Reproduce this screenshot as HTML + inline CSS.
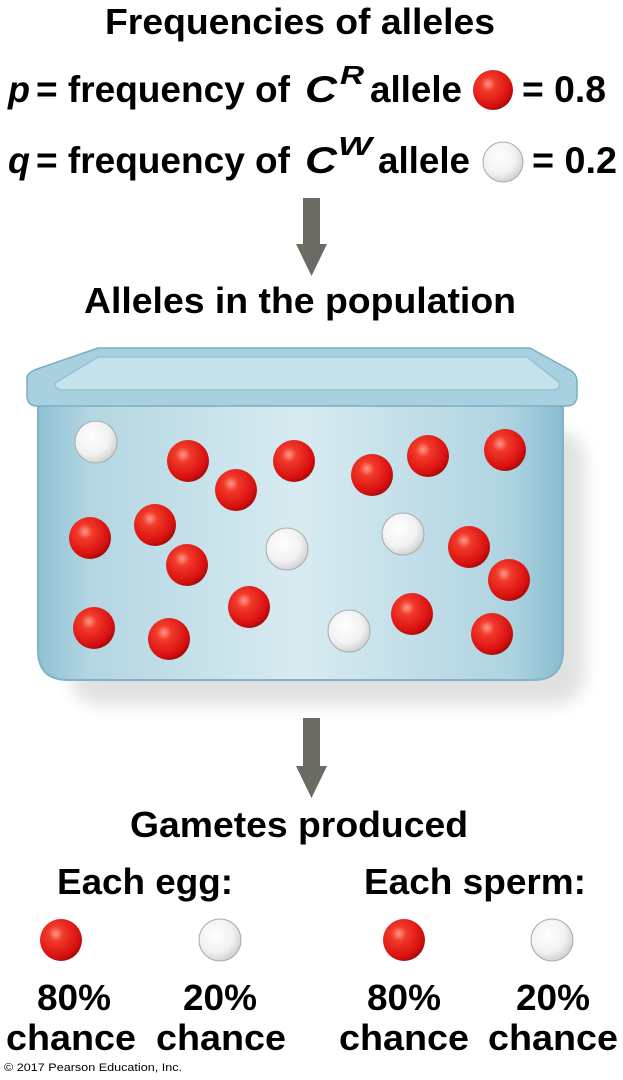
<!DOCTYPE html>
<html><head><meta charset="utf-8"><style>
html,body{margin:0;padding:0;background:#fff;}
svg{display:block;font-family:"Liberation Sans",sans-serif;font-weight:bold;}
</style></head><body>
<svg width="623" height="1080" viewBox="0 0 623 1080">
<defs>
<radialGradient id="red" cx="0.38" cy="0.35" r="0.7">
<stop offset="0" stop-color="#ff9a8a"/><stop offset="0.25" stop-color="#f23a2a"/><stop offset="0.8" stop-color="#d80f0f"/><stop offset="1" stop-color="#9a0a0a"/></radialGradient>
<radialGradient id="wht" cx="0.4" cy="0.38" r="0.7">
<stop offset="0" stop-color="#ffffff"/><stop offset="0.6" stop-color="#f1f1f1"/><stop offset="1" stop-color="#c9c9c9"/></radialGradient>
<linearGradient id="body" x1="0" x2="1" y1="0" y2="0">
<stop offset="0" stop-color="#8fc1d3"/><stop offset="0.1" stop-color="#b3d6e2"/><stop offset="0.5" stop-color="#d8ebf1"/><stop offset="0.9" stop-color="#aed3e0"/><stop offset="1" stop-color="#87bccf"/></linearGradient>
<filter id="sh" x="-20%" y="-20%" width="140%" height="140%"><feGaussianBlur stdDeviation="8"/></filter>
</defs>

<text x="105" y="34" font-size="36" textLength="390" lengthAdjust="spacingAndGlyphs">Frequencies of alleles</text>

<g font-size="37">
<text x="8" y="102" font-style="italic" textLength="22" lengthAdjust="spacingAndGlyphs">p</text>
<text x="36" y="102" textLength="254" lengthAdjust="spacingAndGlyphs">= frequency of</text>
<text x="305" y="102" font-style="italic" textLength="32" lengthAdjust="spacingAndGlyphs">C</text>
<text x="340" y="84" font-style="italic" font-size="26" textLength="24" lengthAdjust="spacingAndGlyphs">R</text>
<text x="370" y="102" textLength="92" lengthAdjust="spacingAndGlyphs">allele</text>
<text x="522" y="102" textLength="84" lengthAdjust="spacingAndGlyphs">= 0.8</text>
</g>
<circle cx="493" cy="90" r="20" fill="url(#red)"/>

<g font-size="37">
<text x="8" y="173" font-style="italic" textLength="22" lengthAdjust="spacingAndGlyphs">q</text>
<text x="36" y="173" textLength="254" lengthAdjust="spacingAndGlyphs">= frequency of</text>
<text x="305" y="173" font-style="italic" textLength="32" lengthAdjust="spacingAndGlyphs">C</text>
<text x="338" y="155" font-style="italic" font-size="26" textLength="34" lengthAdjust="spacingAndGlyphs">W</text>
<text x="378" y="173" textLength="92" lengthAdjust="spacingAndGlyphs">allele</text>
<text x="532" y="173" textLength="85" lengthAdjust="spacingAndGlyphs">= 0.2</text>
</g>
<circle cx="503" cy="162" r="20" fill="url(#wht)" stroke="#aaa" stroke-width="1"/>

<g fill="#6b6b63">
<rect x="303" y="198" width="17" height="46"/><polygon points="296,244 327,244 311.5,276"/></g>

<text x="84" y="313" font-size="36" textLength="432" lengthAdjust="spacingAndGlyphs">Alleles in the population</text>

<g>
<rect x="70" y="430" width="515" height="275" rx="30" fill="#888" opacity="0.25" filter="url(#sh)"/>
<path d="M38,395 L563,395 L563,650 Q563,680 533,680 L68,680 Q38,680 38,650 Z" fill="url(#body)" stroke="#7fb4c8" stroke-width="2"/>
<path d="M27,378 Q27,372 40,368 L98,348 L530,348 L570,370 Q577,374 577,382 L577,395 Q577,406 566,406 L37,406 Q27,406 27,395 Z" fill="#a9d0de" stroke="#78afc3" stroke-width="1.5"/>
<path d="M55,383 L98,357 L527,357 L560,383 Q560,390 552,390 L62,390 Q55,390 55,383 Z" fill="#c5e2ec" stroke="#92c2d3" stroke-width="1.5"/>
</g>

<g id="balls"></g>

<g fill="#6b6b63">
<rect x="303" y="718" width="17" height="48"/><polygon points="296,766 327,766 311.5,798"/></g>

<text x="130" y="837" font-size="36" textLength="338" lengthAdjust="spacingAndGlyphs">Gametes produced</text>
<text x="57" y="894" font-size="36" textLength="176" lengthAdjust="spacingAndGlyphs">Each egg:</text>
<text x="364" y="894" font-size="36" textLength="222" lengthAdjust="spacingAndGlyphs">Each sperm:</text>

<circle cx="61" cy="940" r="21" fill="url(#red)"/>
<circle cx="220" cy="940" r="21" fill="url(#wht)" stroke="#aaa"/>
<circle cx="404" cy="940" r="21" fill="url(#red)"/>
<circle cx="552" cy="940" r="21" fill="url(#wht)" stroke="#aaa"/>

<g font-size="36">
<text x="37" y="1010" textLength="74" lengthAdjust="spacingAndGlyphs">80%</text>
<text x="6" y="1050" textLength="130" lengthAdjust="spacingAndGlyphs">chance</text>
<text x="183" y="1010" textLength="74" lengthAdjust="spacingAndGlyphs">20%</text>
<text x="156" y="1050" textLength="130" lengthAdjust="spacingAndGlyphs">chance</text>
<text x="367" y="1010" textLength="74" lengthAdjust="spacingAndGlyphs">80%</text>
<text x="339" y="1050" textLength="130" lengthAdjust="spacingAndGlyphs">chance</text>
<text x="516" y="1010" textLength="74" lengthAdjust="spacingAndGlyphs">20%</text>
<text x="488" y="1050" textLength="130" lengthAdjust="spacingAndGlyphs">chance</text>
</g>
<text x="4" y="1071" font-size="11" font-weight="normal" textLength="178" lengthAdjust="spacingAndGlyphs">© 2017 Pearson Education, Inc.</text>
</svg>
<script>
const redX=[188,236,294,372,428,505,90,155,187,469,509,94,169,249,412,492];
const redY=[461,490,461,475,456,450,538,525,565,547,580,628,639,607,614,634];
const whiteX=[96,287,403,349];
const whiteY=[442,549,534,631];
const g=document.getElementById('balls');
const NS='http://www.w3.org/2000/svg';
redX.forEach((x,i)=>{const c=document.createElementNS(NS,'circle');
c.setAttribute('cx',x);c.setAttribute('cy',redY[i]);c.setAttribute('r',21);c.setAttribute('fill','url(#red)');


g.appendChild(c);});
whiteX.forEach((x,i)=>{const c=document.createElementNS(NS,'circle');
c.setAttribute('cx',x);c.setAttribute('cy',whiteY[i]);c.setAttribute('r',21);c.setAttribute('fill','url(#wht)');c.setAttribute('stroke','#aaa');


g.appendChild(c);});
</script>
</body></html>
